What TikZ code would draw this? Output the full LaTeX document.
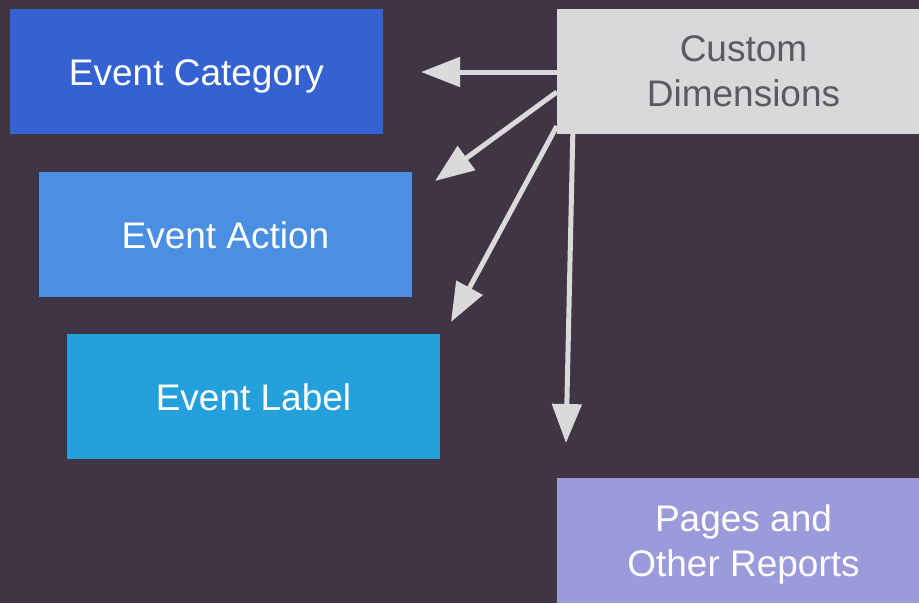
\documentclass[tikz,border=0pt]{standalone}
\usepackage{fontspec}
\setmainfont{Liberation Sans}
\usetikzlibrary{arrows.meta}
\definecolor{bgc}{HTML}{3F3545}
\definecolor{catc}{HTML}{3463D1}
\definecolor{actc}{HTML}{4A8FE2}
\definecolor{labc}{HTML}{24A0DC}
\definecolor{cdc}{HTML}{D9D9D9}
\definecolor{cdtext}{HTML}{5B5A63}
\definecolor{pagec}{HTML}{9B9ADA}
\definecolor{arrc}{HTML}{DADADA}
\begin{document}
\begin{tikzpicture}[x=1pt,y=-1pt,
  box/.style={rectangle, inner sep=0pt, minimum height=125pt, text=white,
    font=\fontsize{37}{45}\selectfont, align=center},
  ev/.style={box, minimum width=373pt, text height=27pt, text depth=0pt},
  side/.style={box, minimum width=373pt},
  conn/.style={draw=arrc, line width=5pt, -{Triangle[length=39pt,width=29pt]}}]
\fill[bgc] (0,0) rectangle (919,603);
\useasboundingbox (0,0) rectangle (919,603);
\node[ev, fill=catc] (cat) at (196.5,71.5) {Event Category};
\node[ev, fill=actc] (act) at (225.5,234.5) {Event Action};
\node[ev, fill=labc] (lab) at (253.5,396.5) {Event Label};
\node[side, fill=cdc, text=cdtext] (cd) at (743.5,71.5) {Custom\\Dimensions};
\node[side, fill=pagec, text depth=0pt] (pg) at (743.5,540.5) {Pages and\\Other Reports};
\coordinate (t1) at (421,72);
\coordinate (t2) at (435,181);
\coordinate (t3) at (451,322);
\coordinate (t4) at (566,443);
\draw[conn] ([yshift=-0.5pt]cd.west) -- (t1);
\draw[conn] ([yshift=-20.5pt]cd.west) -- (t2);
\draw[conn] ([yshift=8pt]cd.south west) -- (t3);
\draw[conn] ([xshift=16pt]cd.south west) -- (t4);
\end{tikzpicture}
\end{document}
